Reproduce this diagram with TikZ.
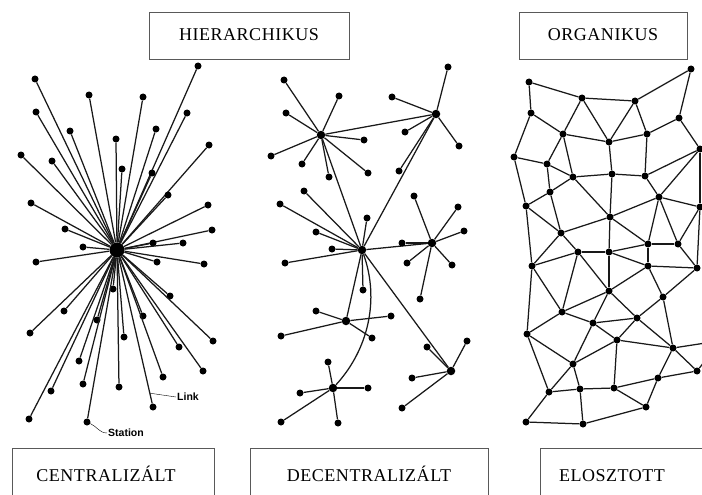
\documentclass[tikz,border=0pt]{standalone}
\usepackage{fontspec}
\newfontfamily\titlefont[LetterSpace=3]{Liberation Serif}
\newfontfamily\tagfont{Liberation Sans}

\begin{document}
\begin{tikzpicture}[x=1pt, y=-1pt,
    dot/.style={circle, fill=black, inner sep=0pt, minimum size=7pt},
    hubdot/.style={circle, fill=black, inner sep=0pt, minimum size=8.5pt},
    link/.style={line width=1.25pt, black!90},
    frame/.style={draw=black!65, line width=0.9pt},
    title/.style={anchor=base, font=\titlefont\fontsize{18}{18}\selectfont},
    tag/.style={font=\tagfont\bfseries\fontsize{10.5}{10.5}\selectfont, inner sep=1pt}]
  \useasboundingbox (0,0) rectangle (702,495);
  \clip (0,0) rectangle (702,495);
  \fill[white] (0,0) rectangle (702,495);

  % titles
  \draw[frame] (149,12) rectangle (349,59);
  \node[title] (hier) at (249,41) {HIERARCHIKUS};
  \draw[frame] (519,12) rectangle (687,59);
  \node[title] (org) at (603,41) {ORGANIKUS};
  \draw[frame] (12,448) rectangle (214,510);
  \node[title] (central) at (106,481) {CENTRALIZÁLT};
  \draw[frame] (250,448) rectangle (488,510);
  \node[title] (decentral) at (369,481) {DECENTRALIZÁLT};
  \draw[frame] (540,448) rectangle (720,510);
  \node[title] (distrib) at (612,481) {ELOSZTOTT};

  % centralised
  \node[circle, fill=black, inner sep=0pt, minimum width=12pt, minimum height=15pt] (hub) at (117,250) {};
  \foreach \x/\y [count=\i] in {35/79, 198/66, 89/95, 143/97, 36/112, 187/113, 70/131,
      156/129, 116/139, 21/155, 52/161, 209/145, 122/169, 152/173, 168/195, 31/203,
      208/205, 65/229, 212/230, 153/243, 183/243, 83/247, 36/262, 157/262, 204/264,
      113/289, 170/296, 64/311, 97/320, 143/316, 30/333, 124/337, 213/341, 179/347,
      79/361, 203/371, 83/384, 119/387, 163/377, 51/391, 29/419, 153/407, 87/422} {
    \node[dot] (c\i) at (\x,\y) {};
    \draw[link] (hub) -- (c\i);
  }
  \path (hub) -- (c42) coordinate[pos=0.93] (linkpt);
  \node[tag, anchor=west] (linktag) at (176,397) {Link};
  \draw[thin] (linkpt) -- (linktag.west);
  \node[tag, anchor=west] (stationtag) at (107,433) {Station};
  \draw[thin] (c43) to[out=-25, in=180] (stationtag.west);

  % decentralised
  \node[hubdot] (ha) at (321,135) {};
  \node[hubdot] (hb) at (436,114) {};
  \node[hubdot] (hc) at (362,250) {};
  \node[hubdot] (hd) at (432,243) {};
  \node[hubdot] (he) at (346,321) {};
  \node[hubdot] (hf) at (333,388) {};
  \node[hubdot] (hg) at (451,371) {};
  \foreach \h/\o in {ha/hb, hb/hc, ha/hc, hc/hd, hc/he, hc/hg}
    \draw[link] (\h) -- (\o);
  \draw[link] (hc) .. controls (380,300) and (368,350) .. (hf);
  \foreach \x/\y [count=\i] in {284/80, 339/96, 286/113, 364/140, 271/156, 302/164, 329/177, 368/173} {
    \node[dot] (a\i) at (\x,\y) {};
    \draw[link] (ha) -- (a\i);
  }
  \foreach \x/\y [count=\i] in {448/67, 392/97, 405/132, 459/146, 399/171} {
    \node[dot] (b\i) at (\x,\y) {};
    \draw[link] (hb) -- (b\i);
  }
  \foreach \x/\y [count=\i] in {304/191, 280/204, 367/218, 316/232, 332/249, 285/263, 363/290} {
    \node[dot] (cc\i) at (\x,\y) {};
    \draw[link] (hc) -- (cc\i);
  }
  \foreach \x/\y [count=\i] in {414/196, 458/207, 464/231, 402/243, 407/263, 452/265, 420/299} {
    \node[dot] (dd\i) at (\x,\y) {};
    \draw[link] (hd) -- (dd\i);
  }
  \foreach \x/\y [count=\i] in {316/311, 281/336, 391/316, 372/338} {
    \node[dot] (ee\i) at (\x,\y) {};
    \draw[link] (he) -- (ee\i);
  }
  \foreach \x/\y [count=\i] in {328/362, 300/393, 368/388, 281/422, 338/423} {
    \node[dot] (ff\i) at (\x,\y) {};
    \draw[link] (hf) -- (ff\i);
  }
  \foreach \x/\y [count=\i] in {467/341, 427/347, 412/378, 402/408} {
    \node[dot] (gg\i) at (\x,\y) {};
    \draw[link] (hg) -- (gg\i);
  }

  % distributed
  \foreach \x/\y [count=\i] in {529/82, 691/69, 582/98, 635/101, 531/113, 679/118, 563/134,
      609/142, 647/134, 700/149, 514/157, 547/164, 573/177, 612/174, 645/176, 550/192,
      659/197, 526/206, 700/207, 610/217, 561/233, 648/244, 678/244, 578/252, 609/252,
      532/266, 648/266, 697/268, 609/291, 663/297, 562/312, 593/323, 637/318, 617/340,
      527/334, 673/348, 573/364, 697/371, 658/378, 549/392, 580/389, 614/388, 646/407,
      526/422, 583/424}
    \node[dot] (d\i) at (\x,\y) {};
  \coordinate (out1) at (712,342);
  \coordinate (out2) at (712,352);
  \foreach \a/\b in {1/3, 1/5, 3/4, 3/7, 3/8, 4/2, 4/8, 4/9, 2/6, 6/9, 6/10, 5/7, 5/11,
      7/8, 7/12, 7/13, 8/9, 8/14, 9/15, 10/15, 10/17, 10/19, 11/12, 11/18, 12/13, 12/16,
      13/14, 13/16, 13/20, 14/15, 14/20, 15/17, 16/18, 16/21, 17/19, 17/20, 17/22, 17/23,
      18/21, 18/26, 19/23, 19/28, 20/21, 20/22, 20/25, 21/24, 21/26, 22/23, 22/25, 22/27,
      23/28, 24/25, 24/26, 24/29, 24/31, 25/27, 25/29, 26/31, 26/35, 27/28, 27/29, 27/30,
      28/30, 29/31, 29/32, 29/33, 30/33, 30/36, 31/32, 31/35, 32/33, 32/34, 32/37, 33/34,
      33/36, 34/36, 34/37, 34/42, 35/37, 35/40, 36/38, 36/39, 37/40, 37/41, 38/39, 39/42,
      39/43, 40/41, 40/44, 41/42, 41/45, 42/43, 43/45, 44/45}
    \draw[link] (d\a) -- (d\b);
  \draw[link] (d36) -- (out1);
  \draw[link] (d38) -- (out2);
\end{tikzpicture}
\end{document}
